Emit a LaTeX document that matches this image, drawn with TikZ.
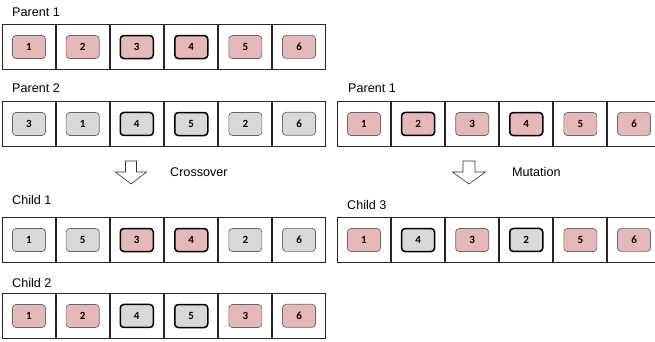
\documentclass[tikz,border=0pt]{standalone}
\usepackage{fontspec}
\setmainfont{Liberation Sans}
\newfontfamily\genefont{Carlito}
\usetikzlibrary{matrix}

\definecolor{genepink}{HTML}{E6B9B8}
\definecolor{genegray}{HTML}{D9D9D9}

\begin{document}
\begin{tikzpicture}[x=1pt, y=-1pt, every node/.style={font=\fontsize{12.6}{14}\selectfont},
	gene/.style={draw=black!60, line width=0.7pt, rounded corners=3.5pt, fill=genepink, minimum width=33pt, minimum height=23pt, inner sep=0pt, font=\genefont\bfseries\fontsize{11}{12}\selectfont},
	gy/.style={fill=genegray},
	hi/.style={draw=black, line width=1.5pt},
	chrom/.style={matrix of nodes, nodes={gene}, column sep=20pt, inner sep=0pt},
	cellbox/.style={draw=black!85, line width=0.8pt},
	lbl/.style={anchor=west, inner sep=0pt},
	blockarrow/.style={draw=black!80, line width=0.6pt, fill=white}]
	\clip (0,0) rectangle (655,341);
	% crossover side
	\node[lbl] (lpa) at (12,12) {Parent 1};
	\matrix (pa) [chrom] at (164,47) {1 & 2 & |[hi]| 3 & |[hi]| 4 & 5 & 6 \\};
	\node[lbl] (lpb) at (12,88) {Parent 2};
	\matrix (pb) [chrom, nodes={gy}] at (164,124) {3 & 1 & |[hi]| 4 & |[hi]| 5 & 2 & 6 \\};
	\coordinate (xo) at (131,161);
	\draw[blockarrow] (xo) ++(-5.5,0) -- ++(11,0) -- ++(0,11) -- ++(10,0) -- ++(-15.5,12) -- ++(-15.5,-12) -- ++(10,0) -- cycle;
	\node[lbl] (lxo) at (170,172) {Crossover};
	\node[lbl] (lca) at (12,200) {Child 1};
	\matrix (ca) [chrom] at (164,240) {|[gy]| 1 & |[gy]| 5 & |[hi]| 3 & |[hi]| 4 & |[gy]| 2 & |[gy]| 6 \\};
	\node[lbl] (lcb) at (12,283) {Child 2};
	\matrix (cb) [chrom] at (164,316) {1 & 2 & |[gy,hi]| 4 & |[gy,hi]| 5 & 3 & 6 \\};
	% mutation side
	\node[lbl] (lpr) at (348,88) {Parent 1};
	\matrix (pr) [chrom] at (499,124) {1 & |[hi]| 2 & 3 & |[hi]| 4 & 5 & 6 \\};
	\coordinate (mu) at (469,161);
	\draw[blockarrow] (mu) ++(-6,0) -- ++(12,0) -- ++(0,11) -- ++(10.5,0) -- ++(-16.5,12) -- ++(-16.5,-12) -- ++(10.5,0) -- cycle;
	\node[lbl] (lmu) at (512,172) {Mutation};
	\node[lbl] (lcc) at (347,205) {Child 3};
	\matrix (cc) [chrom] at (499,240) {1 & |[gy,hi]| 4 & 3 & |[gy,hi]| 2 & 5 & 6 \\};
	% cell frames round every gene
	\foreach \m in {pa,pb,ca,cb,pr,cc}
		\foreach \i in {1,...,6}
			\draw[cellbox] (\m-1-\i.center) ++(-26.5,-22.5) rectangle ++(53,45);
\end{tikzpicture}
\end{document}
